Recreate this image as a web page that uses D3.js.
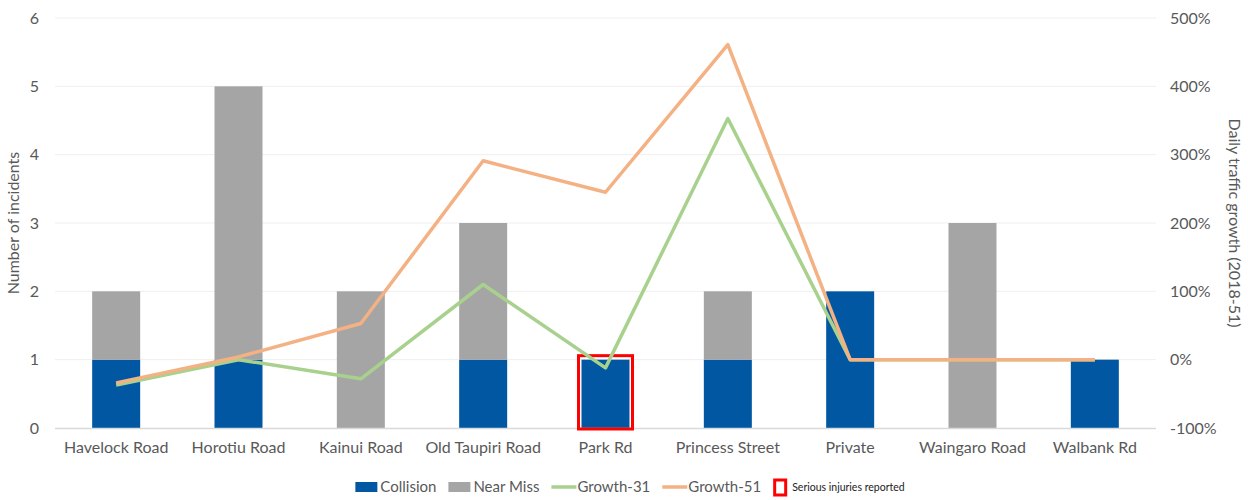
<!DOCTYPE html>
<html lang="en">
<head>
  <meta charset="UTF-8">
  <script src="https://d3js.org/d3.v7.min.js"></script>
  <title>Incidents by road</title>
  <style>
    body { margin: 0; background: #fff; }
    text { font-family: Lato, "Open Sans", sans-serif; fill: #595959; }
  </style>
</head>
<body>
  <script>
    // data
    const roads = ["Havelock Road", "Horotiu Road", "Kainui Road", "Old Taupiri Road", "Park Rd",
                   "Princess Street", "Private", "Waingaro Road", "Walbank Rd"]
    const collision = [1, 1, 0, 1, 1, 1, 2, 0, 1]
    const nearMiss  = [1, 4, 2, 2, 0, 1, 0, 3, 0]
    const growth31  = [-0.37, 0.0, -0.28, 1.10, -0.12, 3.53, 0, 0, 0]
    const growth51  = [-0.34, 0.04, 0.53, 2.91, 2.45, 4.61, 0, 0, 0]
    const serious   = [false, false, false, false, true, false, false, false, false]
    const leftTicks = [0, 1, 2, 3, 4, 5, 6]
    const rightTicks = [-1, 0, 1, 2, 3, 4, 5]

    const dimensions = {
      width: 1248,
      height: 500,
      margin: { top: 18, right: 92, bottom: 72, left: 55 }
    }
    dimensions.boundedWidth = dimensions.width - dimensions.margin.left - dimensions.margin.right
    dimensions.boundedHeight = dimensions.height - dimensions.margin.top - dimensions.margin.bottom

    const svg = d3.select("body").append("svg")
        .attr("width", dimensions.width)
        .attr("height", dimensions.height)

    const bounds = svg.append("g")
        .attr("transform", `translate(${dimensions.margin.left},${dimensions.margin.top})`)

    /* scales */
    const xScale = d3.scaleBand()
        .domain(roads)
        .range([0, dimensions.boundedWidth])
    const yScale = d3.scaleLinear()
        .domain([0, 6])
        .range([dimensions.boundedHeight, 0])
    const y2Scale = d3.scaleLinear()
        .domain([-1, 5])
        .range([dimensions.boundedHeight, 0])
    const barW = 48

    // gridlines
    bounds.append("g")
        .selectAll("line")
        .data(leftTicks.slice(1))
        .join("line")
        .attr("x1", 0)
        .attr("x2", dimensions.boundedWidth)
        .attr("y1", d => yScale(d))
        .attr("y2", d => yScale(d))
        .attr("stroke", "#efefef")
        .attr("stroke-width", 1)

    // stacked bars
    const rows = roads.map((r, i) => ({ road: r, collision: collision[i], nearMiss: nearMiss[i] }))
    const stack = d3.stack().keys(["collision", "nearMiss"])(rows)
    const colors = { collision: "#0257a3", nearMiss: "#a5a5a5" }

    bounds.append("g")
        .selectAll("g")
        .data(stack)
        .join("g")
        .attr("fill", d => colors[d.key])
        .selectAll("rect")
        .data(d => d)
        .join("rect")
        .attr("x", d => xScale(d.data.road) + xScale.bandwidth() / 2 - barW / 2)
        .attr("width", barW)
        .attr("y", d => yScale(d[1]))
        .attr("height", d => yScale(d[0]) - yScale(d[1]))

    // x axis line
    bounds.append("line")
        .attr("x1", 0)
        .attr("x2", dimensions.boundedWidth)
        .attr("y1", dimensions.boundedHeight + 0.5)
        .attr("y2", dimensions.boundedHeight + 0.5)
        .attr("stroke", "#d9d9d9")
        .attr("stroke-width", 1.5)

    // serious injury boxes
    bounds.append("g")
        .selectAll("rect")
        .data(roads.filter((r, i) => serious[i]))
        .join("rect")
        .attr("x", d => xScale(d) + xScale.bandwidth() / 2 - barW / 2 - 3)
        .attr("width", barW + 6)
        .attr("y", d => yScale(collision[roads.indexOf(d)] + nearMiss[roads.indexOf(d)]) - 4)
        .attr("height", d => yScale(0) - yScale(collision[roads.indexOf(d)] + nearMiss[roads.indexOf(d)]) + 5)
        .attr("fill", "none")
        .attr("stroke", "#ff0000")
        .attr("stroke-width", 3)

    // growth lines
    const line = d3.line()
        .x((d, i) => xScale(roads[i]) + xScale.bandwidth() / 2)
        .y(d => y2Scale(d))

    bounds.append("path")
        .datum(growth31)
        .attr("d", line)
        .attr("fill", "none")
        .attr("stroke", "#a9d18e")
        .attr("stroke-width", 3.5)
        .attr("stroke-linejoin", "round")

    bounds.append("path")
        .datum(growth51)
        .attr("d", line)
        .attr("fill", "none")
        .attr("stroke", "#f4b183")
        .attr("stroke-width", 3.5)
        .attr("stroke-linejoin", "round")

    // left axis
    bounds.append("g")
        .call(d3.axisLeft(yScale).tickValues(leftTicks).tickSize(0).tickPadding(16).tickFormat(d3.format("d")))
        .call(g => g.select(".domain").remove())
        .selectAll("text")
        .style("font-size", "16px")
        .attr("fill", "#595959")

    // right axis
    bounds.append("g")
        .attr("transform", `translate(${dimensions.boundedWidth},0)`)
        .call(d3.axisRight(y2Scale).tickValues(rightTicks).tickSize(0).tickPadding(14)
          .tickFormat(d => Math.round(d * 100) + "%"))
        .call(g => g.select(".domain").remove())
        .selectAll("text")
        .style("font-size", "16px")
        .attr("fill", "#595959")

    // bottom labels
    bounds.append("g")
        .attr("transform", `translate(0,${dimensions.boundedHeight})`)
        .call(d3.axisBottom(xScale).tickSize(0).tickPadding(14))
        .call(g => g.select(".domain").remove())
        .selectAll("text")
        .style("font-size", "16px")
        .attr("fill", "#595959")

    // axis titles
    svg.append("text")
        .attr("transform", `translate(19,${dimensions.margin.top + dimensions.boundedHeight / 2}) rotate(-90)`)
        .attr("text-anchor", "middle")
        .style("font-size", "16px")
        .text("Number of incidents")

    svg.append("text")
        .attr("transform", `translate(1229,${dimensions.margin.top + dimensions.boundedHeight / 2}) rotate(90)`)
        .attr("text-anchor", "middle")
        .style("font-size", "16px")
        .text("Daily traffic growth (2018-51)")

    // legend, laid out from measured text widths and centred
    const legendItems = [
      { label: "Collision", type: "rect", color: colors.collision, size: 15 },
      { label: "Near Miss", type: "rect", color: colors.nearMiss, size: 15 },
      { label: "Growth-31", type: "line", color: "#a9d18e", size: 15 },
      { label: "Growth-51", type: "line", color: "#f4b183", size: 15 },
      { label: "Serious injuries reported", type: "box", color: "#ff0000", size: 10.5 }
    ]
    const legend = svg.append("g").attr("transform", "translate(0,487)")
    const items = legend.selectAll("g")
        .data(legendItems)
        .join("g")
    items.each(function (d) {
      const g = d3.select(this)
      if (d.type === "rect") {
        g.append("rect").attr("x", 0).attr("y", -5).attr("width", 22).attr("height", 10).attr("fill", d.color)
      } else if (d.type === "line") {
        g.append("line").attr("x1", 0).attr("x2", 25).attr("y1", 0).attr("y2", 0)
            .attr("stroke", d.color).attr("stroke-width", 3.5)
      } else {
        g.append("rect").attr("x", 1.5).attr("y", -7).attr("width", 11).attr("height", 15)
            .attr("fill", "none").attr("stroke", d.color).attr("stroke-width", 3)
      }
      const sw = d.type === "line" ? 26 : d.type === "rect" ? 25 : 19
      const t = g.append("text").attr("x", sw).attr("dy", "0.35em")
          .style("font-size", d.size + "px").text(d.label)
      if (d.type === "box") t.style("fill", "#222")
      d.w = sw + t.node().getComputedTextLength()
    })
    const gap = 12
    const total = d3.sum(legendItems, d => d.w) + gap * (legendItems.length - 1)
    let cursor = 630 - total / 2
    items.attr("transform", d => {
      const x = cursor
      cursor += d.w + gap
      return `translate(${x},0)`
    })
  </script>
</body>
</html>
